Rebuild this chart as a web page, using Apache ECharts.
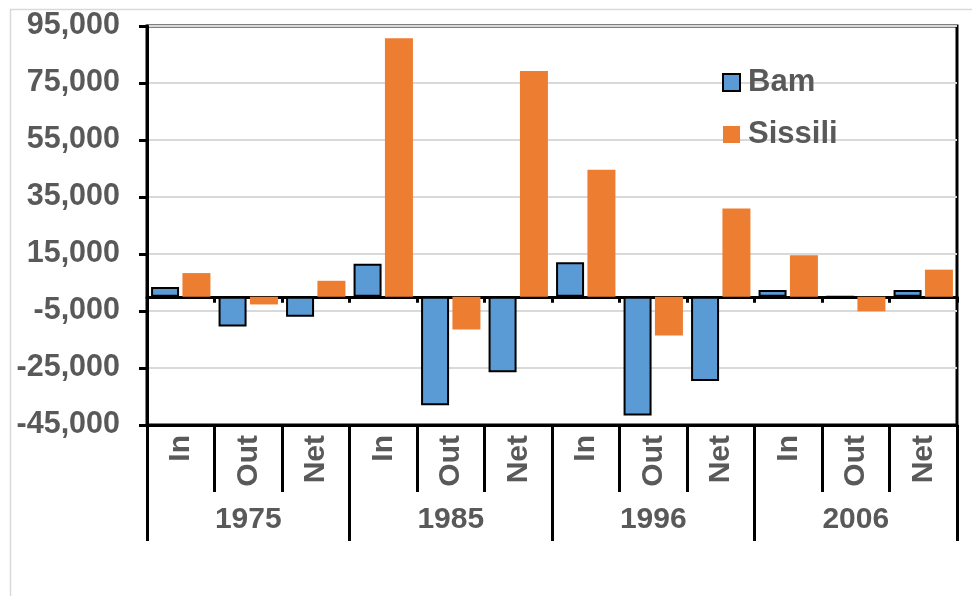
<!DOCTYPE html>
<html>
<head>
<meta charset="utf-8">
<script src="https://cdn.jsdelivr.net/npm/echarts@6/dist/echarts.min.js"></script>
<style>
  html, body { margin: 0; padding: 0; background: #fff; }
  #chart { width: 972px; height: 596px; }
</style>
</head>
<body>
<div id="chart"></div>
<script>
// Migration flows (persons) for two provinces, by census year
const flowTypes = ['In', 'Out', 'Net'];
const years = ['1975', '1985', '1996', '2006'];
const categories = [
  'In', 'Out', 'Net',
  'In', 'Out', 'Net',
  'In', 'Out', 'Net',
  'In', 'Out', 'Net'
];
const bam = [3400, -10400, -7000, 11600, -38100, -26500, 12100, -41700, -29600, 2400, 0, 2400];
const sissili = [8300, -2700, 5600, 90700, -11500, 79200, 44600, -13600, 31000, 14600, -5100, 9500];
const yTicks = { min: -45000, max: 95000, step: 20000 };

const labelColor = '#595959';
const font = 'Liberation Sans, Arial, sans-serif';

const chart = echarts.init(document.getElementById('chart'), null, { renderer: 'canvas' });

chart.setOption({
  animation: false,
  backgroundColor: '#fff',
  graphic: [{
    type: 'rect',
    left: 8, top: 7, z: -10,
    shape: { width: 1000, height: 1000 },
    style: { fill: 'none', stroke: '#D9D9D9', lineWidth: 1.5 }
  }],
  grid: {
    left: 147, right: 15, top: 26, bottom: 171,
    show: true, borderColor: '#000', borderWidth: 3
  },
  legend: {
    orient: 'vertical',
    left: 717, top: 62,
    itemWidth: 17, itemHeight: 17, itemGap: 21,
    textStyle: {
      fontFamily: font, fontWeight: 'bold', fontSize: 31,
      color: labelColor, lineHeight: 30, padding: [0, 0, 0, 3]
    },
    data: [
      { name: 'Bam', icon: 'rect', itemStyle: { color: '#5B9BD5', borderColor: '#000', borderWidth: 2 } },
      { name: 'Sissili', icon: 'rect', itemStyle: { color: '#ED7D31', borderWidth: 0 } }
    ]
  },
  xAxis: [
    {
      // zero line with short ticks between bars
      type: 'category', data: categories, position: 'bottom',
      axisLine: { onZero: true, lineStyle: { color: '#000', width: 3 } },
      axisTick: { show: true, interval: 0, length: 6, lineStyle: { color: '#000', width: 3 } },
      axisLabel: { show: false },
      splitLine: { show: false }
    },
    {
      // first label row: flow type
      type: 'category', data: categories, position: 'bottom',
      axisLine: { onZero: false, show: true, lineStyle: { color: '#000', width: 3 } },
      axisTick: { show: true, interval: 0, length: 67, lineStyle: { color: '#000', width: 3 } },
      axisLabel: {
        interval: 0, rotate: 90, margin: 10,
        fontFamily: font, fontWeight: 'bold', fontSize: 30, color: labelColor
      },
      splitLine: { show: false }
    },
    {
      // second label row: census year
      type: 'category', data: years, position: 'bottom',
      axisLine: { onZero: false, show: false },
      axisTick: { show: true, interval: 0, length: 116, lineStyle: { color: '#000', width: 3 } },
      axisLabel: {
        interval: 0, margin: 80,
        fontFamily: font, fontWeight: 'bold', fontSize: 30, color: labelColor
      },
      splitLine: { show: false }
    }
  ],
  yAxis: {
    type: 'value',
    min: yTicks.min, max: yTicks.max, interval: yTicks.step,
    axisLine: { show: true, lineStyle: { color: '#000', width: 3 } },
    axisTick: { show: true, length: 8, lineStyle: { color: '#000', width: 3 } },
    axisLabel: {
      margin: 27,
      fontFamily: font, fontWeight: 'bold', fontSize: 30.5, color: labelColor,
      formatter: v => v.toLocaleString('en-US')
    },
    splitLine: { show: true, lineStyle: { color: '#D9D9D9', width: 2 } }
  },
  series: [
    {
      name: 'Bam', type: 'bar', xAxisIndex: 0, data: bam,
      barWidth: 28, barGap: '12%',
      itemStyle: { color: '#5B9BD5', borderColor: '#000', borderWidth: 2 }
    },
    {
      name: 'Sissili', type: 'bar', xAxisIndex: 0, data: sissili,
      barWidth: 28, barGap: '12%',
      itemStyle: { color: '#ED7D31' }
    }
  ]
});
</script>
</body>
</html>
